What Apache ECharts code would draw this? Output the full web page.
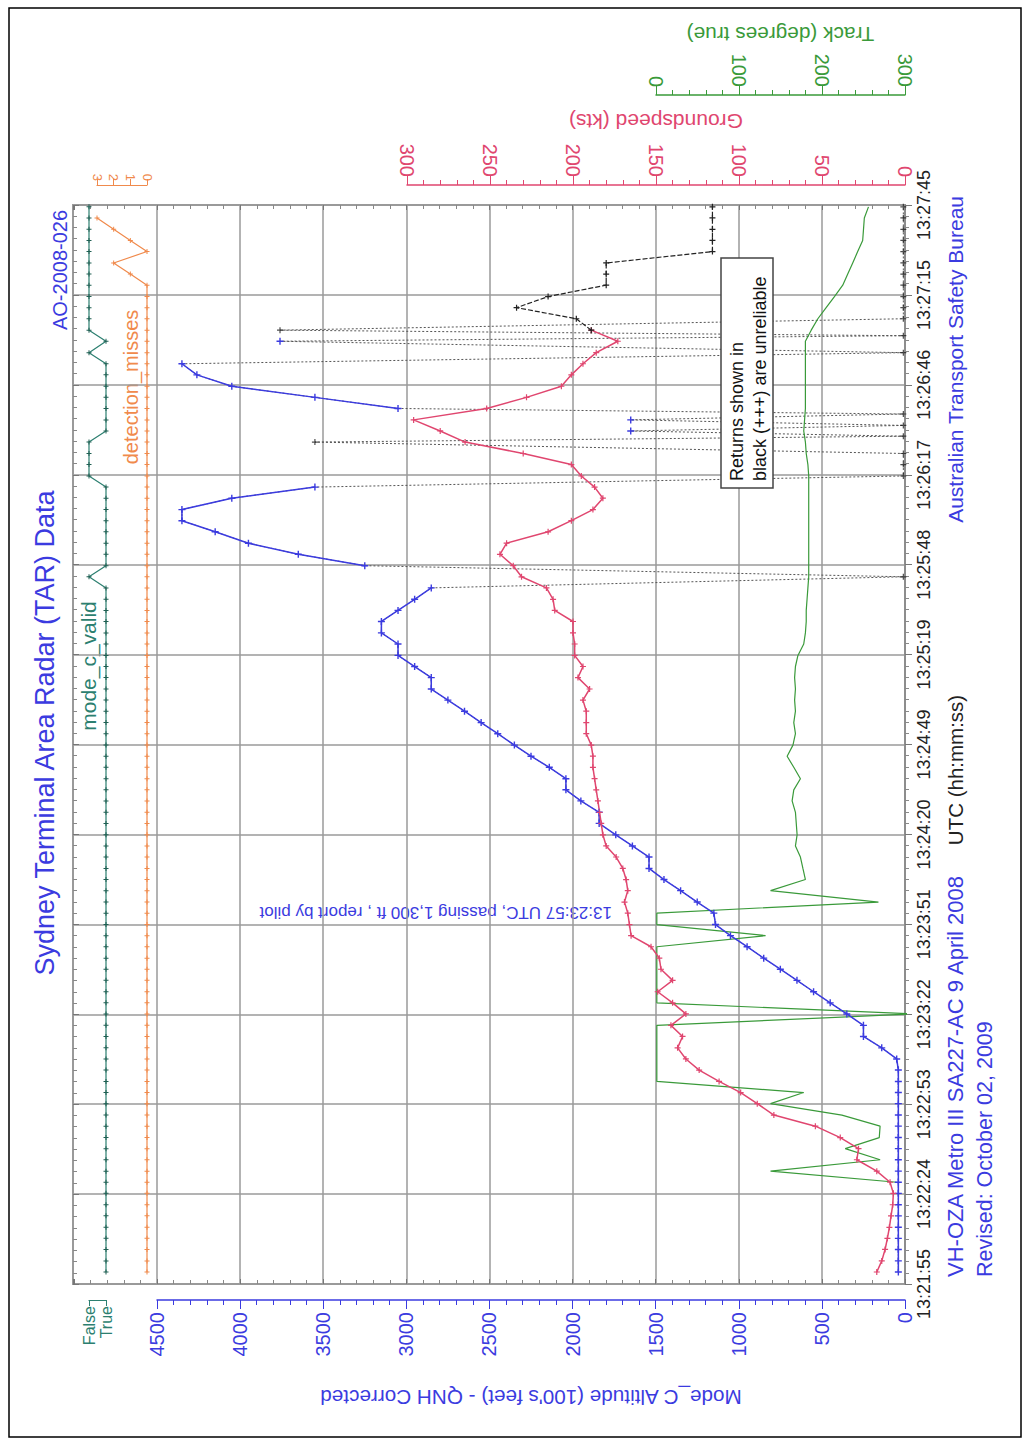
<!DOCTYPE html>
<html><head><meta charset="utf-8">
<script src="https://cdn.jsdelivr.net/npm/echarts@6/dist/echarts.min.js"></script>
<style>html,body{margin:0;padding:0;background:#fff}#c{width:1030px;height:1446px}</style>
</head><body><div id="c"></div>
<script>
// ---------------- data ----------------
const timeTickLabels = ['13:21:55','13:22:24','13:22:53','13:23:22','13:23:51','13:24:20','13:24:49','13:25:19','13:25:48','13:26:17','13:26:46','13:27:15','13:27:45'];
// seconds after 13:21:55 of each radar scan
const scanTimes = [3.9,7.5,11.2,14.8,18.4,22.1,25.7,29.4,33.0,36.6,40.3,43.9,47.5,51.2,54.8,58.5,62.1,65.7,69.4,73.0,
  76.6,80.3,83.9,87.6,91.2,94.8,98.5,102.1,105.7,109.4,113.0,116.6,120.3,123.9,127.6,131.2,134.8,138.5,142.1,145.7,
  149.4,153.0,156.7,160.3,163.9,167.6,171.2,174.8,178.5,182.1,185.8,189.4,193.0,196.7,200.3,203.9,207.6,211.2,214.9,218.5,
  222.1,225.8,229.4,233.0,236.7,240.3,244.0,247.6,251.2,254.9,258.5,262.1,265.8,269.4,273.1,276.7,280.3,284.0,287.6,291.2,
  294.9,298.5,302.1,305.8,309.4,313.1,316.7,320.3,324.0,327.6,331.2,334.9,338.5,342.1,345.8,349.4];
// Mode C altitude, feet (reliable returns, blue)
const altitudeFt = [40,40,40,40,40,40,40,40,40,40,40,40,40,40,40,40,40,40,40,50,
  140,250,250,350,450,550,650,750,850,950,1050,1140,1150,1250,1350,1450,1540,1540,1640,1740,
  1840,1840,1950,2040,2040,2140,2250,2350,2450,2550,2650,2750,2850,2850,2950,3050,3050,3150,3150,3050,
  2950,2850,null,3250,3650,3950,4150,4350,4350,4050,3550,null,null,null,null,1650,1650,3050,3550,4050,
  4260,4350,null,3760,null,null,null,null,null,null,null,null,null,null,null,null];
// unreliable altitude returns on the scans (black)
const unreliableAltFt = [null,null,null,null,null,null,null,null,null,null,null,null,null,null,null,null,null,null,null,null,
  null,null,null,null,null,null,null,null,null,null,null,null,null,null,null,null,null,null,null,null,
  null,null,null,null,null,null,null,null,null,null,null,null,null,null,null,null,null,null,null,null,
  null,null,10,null,null,null,null,null,null,null,null,10,10,10,3550,null,null,null,null,null,
  null,null,10,null,3760,10,10,10,10,10,10,10,10,10,10,10];
// extra unreliable returns between scans (reading ~0 ft)
const extraReturnTimes = [275.0, 278.5, 282.2, 307.6];
const extraReturnFt = [10, 10, 10, 10];
// groundspeed, knots (reliable, red)
const groundspeedKts = [17,14,12,10.6,9.4,8.4,7.4,7,9,17,29,28,39,54,79,89,99,112,124,132,
  137,134,141,132,140,149,140,147,148,153,165,166,167,169,167,168,170,174,180,182,
  183,184,185,186,187,188,188,189,192,192,192,194,190,197,194,199,199,200,200,211,
  212,216,231,236,244,240,215,201,188,182,187,195,201,230,265,280,296,252,228,207,
  201,194,186,173,189,null,null,null,null,null,null,null,null,null,null,null];
// unreliable groundspeed (black)
const unreliableGsKts = [null,null,null,null,null,null,null,null,null,null,null,null,null,null,null,null,null,null,null,null,
  null,null,null,null,null,null,null,null,null,null,null,null,null,null,null,null,null,null,null,null,
  null,null,null,null,null,null,null,null,null,null,null,null,null,null,null,null,null,null,null,null,
  null,null,null,null,null,null,null,null,null,null,null,null,null,null,null,null,null,null,null,null,
  null,null,null,null,189,198,234,215,180,180,180,116,116,116,116,116];
// track, degrees true (green)
const trackDeg = [null,null,null,null,null,null,null,null,290,138,270,228,269,270,224,138,178,1,1,1,
  1,1,1,310,1,1,1,1,1,1,132,1,1,268,138,180,177,174,168,170,
  169,168,164,166,174,166,158,165,168,166,168,167,168,167,168,171,178,180,181,181,
  182,183,184,184,184,184,184,184,184,184,184,184,183,181,180,178,179,180,180,180,
  180,180,180,180,187,195,205,215,225,231,237,243,249,250,251,256];
// mode C valid flag (1 = True, 0 = False)
const modeCValid = [1,1,1,1,1,1,1,1,1,1,1,1,1,1,1,1,1,1,1,1,
  1,1,1,1,1,1,1,1,1,1,1,1,1,1,1,1,1,1,1,1,
  1,1,1,1,1,1,1,1,1,1,1,1,1,1,1,1,1,1,1,1,
  1,1,0,1,1,1,1,1,1,1,1,0,0,0,0,1,1,1,1,1,
  1,1,0,1,0,0,0,0,0,0,0,0,0,0,0,0];
// detection misses
const detectionMisses = [0,0,0,0,0,0,0,0,0,0,0,0,0,0,0,0,0,0,0,0,
  0,0,0,0,0,0,0,0,0,0,0,0,0,0,0,0,0,0,0,0,
  0,0,0,0,0,0,0,0,0,0,0,0,0,0,0,0,0,0,0,0,
  0,0,0,0,0,0,0,0,0,0,0,0,0,0,0,0,0,0,0,0,
  0,0,0,0,0,0,0,0,0,1,2,0,1,2,3,null];

// ---------------- chart ----------------
const TIME_MAX = 350, TIME_STEP = 350 / 12;
const FONT = 'Liberation Sans, Arial, sans-serif';
const BLUE = '#3b3be0', RED = '#e0466f', GREEN = '#3a9a3a', TEAL = '#2c7f70', ORANGE = '#f08a4c', GRID = '#9a9a9a';
const PLUS = 'path://M4,0H6V4H10V6H6V10H4V6H0V4H4Z';

const pairs = (vals) => vals.map((v, i) => [v == null ? '-' : v, scanTimes[i]]);

// all altitude returns in time order, with a reliability flag
const altReturns = [];
scanTimes.forEach((t, i) => {
  if (altitudeFt[i] != null) altReturns.push({t, v: altitudeFt[i], ok: true});
  else if (unreliableAltFt[i] != null) altReturns.push({t, v: unreliableAltFt[i], ok: false});
});
extraReturnTimes.forEach((t, i) => altReturns.push({t, v: extraReturnFt[i], ok: false}));
altReturns.sort((a, b) => a.t - b.t);
const altConnect = altReturns.map(r => [r.v, r.t]);
const altBlue = altReturns.map(r => [r.ok ? r.v : '-', r.t]);
const altBlack = altReturns.filter(r => !r.ok).map(r => [r.v, r.t]);

const chart = echarts.init(document.getElementById('c'), null, {renderer: 'svg'});
const gridBase = {top: 205, bottom: 162, outerBoundsMode: 'none', containLabel: false};
const yHidden = (g) => ({type: 'value', gridIndex: g, min: 0, max: TIME_MAX, show: false,
  axisLine: {show: false, onZero: false}, axisTick: {show: false}, axisLabel: {show: false}, splitLine: {show: false}});
const borderTicks = (pos) => ({type: 'value', gridIndex: 0, position: pos, inverse: true, min: 0, max: 5006, interval: 500,
  axisLine: {show: false, onZero: false}, axisLabel: {show: false}, splitLine: {show: false},
  axisTick: {show: true, inside: true, length: 5, lineStyle: {color: '#777'}},
  minorTick: {show: true, splitNumber: 5, length: 4, lineStyle: {color: '#888'}}});

chart.setOption({
  backgroundColor: '#fff',
  animation: false,
  textStyle: {fontFamily: FONT},
  grid: [
    Object.assign({left: 73, right: 125, show: true, borderColor: GRID, borderWidth: 2}, gridBase),
    Object.assign({left: 157, right: 125}, gridBase),
    Object.assign({left: 407, right: 125}, gridBase),
    Object.assign({left: 656, right: 125}, gridBase),
    Object.assign({left: 89, width: 17}, gridBase),
    Object.assign({left: 97, width: 50}, gridBase)
  ],
  yAxis: [
    {type: 'value', gridIndex: 0, position: 'right', min: 0, max: TIME_MAX, interval: TIME_STEP,
      axisLine: {show: true, onZero: false, lineStyle: {color: '#888', width: 1.5}},
      axisTick: {show: true, length: 7, lineStyle: {color: '#777'}},
      minorTick: {show: true, splitNumber: 8, length: 4, lineStyle: {color: '#888'}},
      splitLine: {show: true, lineStyle: {color: GRID, width: 1.5}},
      axisLabel: {rotate: 90, margin: 10, fontSize: 18, color: '#222', fontFamily: FONT,
        formatter: (v) => timeTickLabels[Math.round(v / TIME_STEP)] || ''}},
    yHidden(1), yHidden(2), yHidden(3), yHidden(4), yHidden(5),
    {type: 'value', gridIndex: 0, position: 'left', min: 0, max: TIME_MAX, interval: TIME_STEP,
      axisLine: {show: false, onZero: false}, axisLabel: {show: false}, splitLine: {show: false},
      axisTick: {show: true, inside: true, length: 6, lineStyle: {color: '#777'}},
      minorTick: {show: true, splitNumber: 8, length: 4, lineStyle: {color: '#888'}}}
  ],
  xAxis: [
    borderTicks('bottom'),
    {type: 'value', gridIndex: 1, position: 'bottom', offset: 16, inverse: true, min: 0, max: 4500, interval: 500,
      axisLine: {show: true, onZero: false, lineStyle: {color: BLUE, width: 1.5}},
      axisTick: {show: true, length: 9, lineStyle: {color: BLUE}},
      minorTick: {show: true, splitNumber: 5, length: 5, lineStyle: {color: BLUE}},
      splitLine: {show: true, lineStyle: {color: GRID, width: 1.5}},
      axisLabel: {rotate: 90, margin: 12, fontSize: 20, color: BLUE, fontFamily: FONT, formatter: (v) => String(v)},
      name: "Mode_C Altitude (100's feet) - QNH Corrected", nameLocation: 'middle', nameGap: 87, nameRotate: 180,
      nameTextStyle: {color: BLUE, fontSize: 20.7, fontFamily: FONT}},
    {type: 'value', gridIndex: 2, position: 'top', offset: 20, inverse: true, min: 0, max: 300, interval: 50,
      axisLine: {show: true, onZero: false, lineStyle: {color: RED, width: 1.5}},
      axisTick: {show: true, length: 9, lineStyle: {color: RED}},
      minorTick: {show: true, splitNumber: 5, length: 5, lineStyle: {color: RED}},
      splitLine: {show: false},
      axisLabel: {rotate: 90, margin: 8, fontSize: 20, color: RED, fontFamily: FONT, formatter: (v) => String(v)},
      name: 'Groundspeed (kts)', nameLocation: 'middle', nameGap: 53, nameRotate: 180,
      nameTextStyle: {color: RED, fontSize: 21, fontFamily: FONT}},
    {type: 'value', gridIndex: 3, position: 'top', offset: 110, min: 0, max: 300, interval: 100,
      axisLine: {show: true, onZero: false, lineStyle: {color: GREEN, width: 1.5}},
      axisTick: {show: true, length: 9, lineStyle: {color: GREEN}},
      minorTick: {show: true, splitNumber: 5, length: 5, lineStyle: {color: GREEN}},
      splitLine: {show: false},
      axisLabel: {rotate: 90, margin: 8, fontSize: 20, color: GREEN, fontFamily: FONT, formatter: (v) => String(v)},
      name: 'Track (degrees true)', nameLocation: 'middle', nameGap: 50, nameRotate: 180,
      nameTextStyle: {color: GREEN, fontSize: 20.8, fontFamily: FONT}},
    {type: 'value', gridIndex: 4, position: 'bottom', offset: 16, min: 0, max: 1, interval: 1,
      axisLine: {show: true, onZero: false, lineStyle: {color: TEAL, width: 1.2}},
      axisTick: {show: true, length: 6, lineStyle: {color: TEAL}},
      splitLine: {show: false},
      axisLabel: {rotate: 90, margin: 6, fontSize: 16, color: TEAL, fontFamily: FONT,
        formatter: (v) => v === 0 ? 'False' : 'True'}},
    {type: 'value', gridIndex: 5, position: 'top', offset: 20, inverse: true, min: 0, max: 3, interval: 1,
      axisLine: {show: true, onZero: false, lineStyle: {color: ORANGE, width: 1.2}},
      axisTick: {show: true, length: 6, lineStyle: {color: ORANGE}},
      splitLine: {show: false},
      axisLabel: {rotate: 90, margin: 4, fontSize: 13, color: ORANGE, fontFamily: FONT}},
    borderTicks('top')
  ],
  series: [
    {name: 'alt-connect', type: 'line', xAxisIndex: 1, yAxisIndex: 1, data: altConnect, symbol: 'none',
      lineStyle: {color: '#555', width: 1, type: [2, 2]}, z: 2},
    {name: 'altitude', type: 'line', xAxisIndex: 1, yAxisIndex: 1, data: altBlue, symbol: PLUS, symbolSize: 7,
      showAllSymbol: true, lineStyle: {color: BLUE, width: 1.5}, itemStyle: {color: BLUE}, z: 4},
    {name: 'alt-unreliable', type: 'scatter', xAxisIndex: 1, yAxisIndex: 1, data: altBlack, symbol: PLUS,
      symbolSize: 6, itemStyle: {color: '#222'}, z: 5},
    {name: 'track', type: 'line', xAxisIndex: 3, yAxisIndex: 3, data: pairs(trackDeg), symbol: 'none',
      lineStyle: {color: GREEN, width: 1.2}, z: 3},
    {name: 'groundspeed', type: 'line', xAxisIndex: 2, yAxisIndex: 2, data: pairs(groundspeedKts), symbol: PLUS, symbolSize: 6,
      showAllSymbol: true, lineStyle: {color: RED, width: 1.5}, itemStyle: {color: RED}, z: 4},
    {name: 'gs-unreliable', type: 'line', xAxisIndex: 2, yAxisIndex: 2, data: pairs(unreliableGsKts), symbol: PLUS, symbolSize: 6,
      showAllSymbol: true, lineStyle: {color: '#222', width: 1.2, type: [5, 2]}, itemStyle: {color: '#222'}, z: 5},
    {name: 'mode_c_valid', type: 'line', xAxisIndex: 4, yAxisIndex: 4, data: pairs(modeCValid), symbol: PLUS, symbolSize: 5,
      showAllSymbol: true, lineStyle: {color: TEAL, width: 1.2}, itemStyle: {color: '#1f5f52'}, z: 4},
    {name: 'detection_misses', type: 'line', xAxisIndex: 5, yAxisIndex: 5, data: pairs(detectionMisses), symbol: PLUS, symbolSize: 5,
      showAllSymbol: true, lineStyle: {color: ORANGE, width: 1.2}, itemStyle: {color: ORANGE}, z: 4}
  ],
  graphic: {elements: [
    {type: 'rect', shape: {x: 9, y: 8, width: 1012, height: 1429}, style: {fill: 'none', stroke: '#000', lineWidth: 1.5}, z: 0, silent: true},
    {type: 'text', x: 45, y: 733, rotation: Math.PI / 2, style: {text: 'Sydney Terminal Area Radar (TAR) Data', fill: BLUE, fontSize: 27, fontFamily: FONT, align: 'center', verticalAlign: 'middle', textAlign: 'center', textVerticalAlign: 'middle'}},
    {type: 'text', x: 60, y: 270, rotation: Math.PI / 2, style: {text: 'AO-2008-026', fill: BLUE, fontSize: 20, fontFamily: FONT, align: 'center', verticalAlign: 'middle', textAlign: 'center', textVerticalAlign: 'middle'}},
    {type: 'text', x: 955, y: 1277, rotation: Math.PI / 2, style: {text: 'VH-OZA Metro III SA227-AC 9 April 2008', fill: BLUE, fontSize: 22, fontFamily: FONT, align: 'left', verticalAlign: 'middle', textAlign: 'left', textVerticalAlign: 'middle'}},
    {type: 'text', x: 985, y: 1277, rotation: Math.PI / 2, style: {text: 'Revised: October 02, 2009', fill: BLUE, fontSize: 21.5, fontFamily: FONT, align: 'left', verticalAlign: 'middle', textAlign: 'left', textVerticalAlign: 'middle'}},
    {type: 'text', x: 955, y: 196, rotation: Math.PI / 2, style: {text: 'Australian Transport Safety Bureau', fill: BLUE, fontSize: 21, fontFamily: FONT, align: 'right', verticalAlign: 'middle', textAlign: 'right', textVerticalAlign: 'middle'}},
    {type: 'text', x: 955, y: 770, rotation: Math.PI / 2, style: {text: 'UTC (hh:mm:ss)', fill: '#222', fontSize: 20.5, fontFamily: FONT, align: 'center', verticalAlign: 'middle', textAlign: 'center', textVerticalAlign: 'middle'}},
    {type: 'text', x: 88, y: 666, rotation: Math.PI / 2, style: {text: 'mode_c_valid', fill: TEAL, fontSize: 21, fontFamily: FONT, align: 'center', verticalAlign: 'middle', textAlign: 'center', textVerticalAlign: 'middle'}},
    {type: 'text', x: 131, y: 387, rotation: Math.PI / 2, style: {text: 'detection_misses', fill: ORANGE, fontSize: 20, fontFamily: FONT, align: 'center', verticalAlign: 'middle', textAlign: 'center', textVerticalAlign: 'middle'}},
    {type: 'text', x: 612, y: 912, rotation: Math.PI, style: {text: '13:23:57 UTC, passing 1,300 ft , report by pilot', fill: BLUE, fontSize: 17, fontFamily: FONT, align: 'left', verticalAlign: 'middle', textAlign: 'left', textVerticalAlign: 'middle'}},
    {type: 'rect', shape: {x: 721, y: 258, width: 52, height: 230}, style: {fill: '#fff', stroke: '#444', lineWidth: 1.5}, z: 10},
    {type: 'text', x: 737, y: 481, rotation: Math.PI / 2, z: 11, style: {text: 'Returns shown in', fill: '#111', fontSize: 18, fontFamily: FONT, align: 'left', verticalAlign: 'middle', textAlign: 'left', textVerticalAlign: 'middle'}},
    {type: 'text', x: 760, y: 481, rotation: Math.PI / 2, z: 11, style: {text: 'black (+++) are unreliable', fill: '#111', fontSize: 18, fontFamily: FONT, align: 'left', verticalAlign: 'middle', textAlign: 'left', textVerticalAlign: 'middle'}}
  ]}
});
</script></body></html>
